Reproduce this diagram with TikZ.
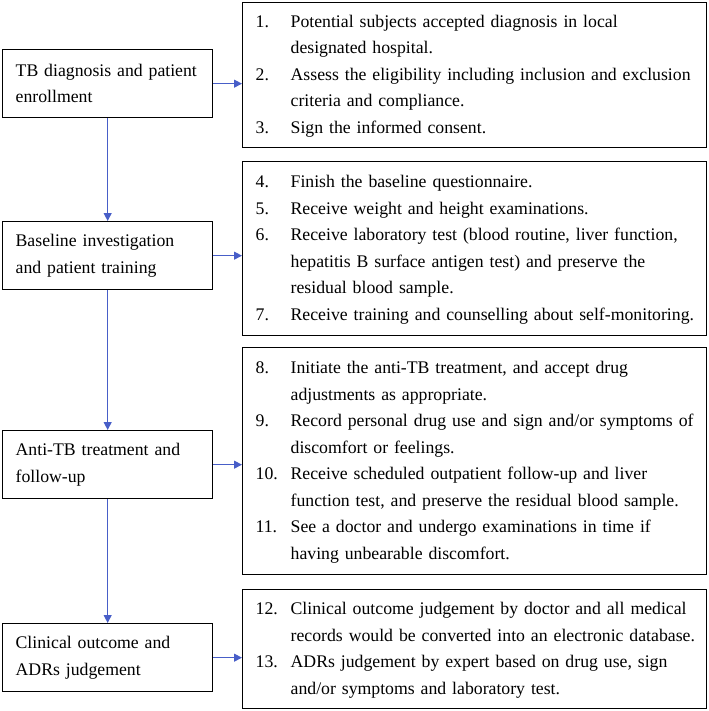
\documentclass[tikz,border=0pt]{standalone}
\usepackage{fontspec}
\setmainfont{Liberation Serif}
\usetikzlibrary{arrows.meta}
\definecolor{flowblue}{RGB}{72,94,200}
\tikzset{
  stage/.style={draw, line width=1pt, anchor=north west, align=left,
    text width=138pt, inner xsep=9.75pt, minimum height=51pt},
  items/.style={draw, line width=1pt, anchor=north west, align=left,
    text width=328.5pt, inner xsep=9.75pt},
  flow/.style={draw=flowblue, line width=0.8pt,
    -{Triangle[length=6pt,width=6pt,fill=flowblue]}}
}
\newcommand{\steplist}[1]{\begin{tabular}{@{}p{26.25pt}@{}l@{}}#1\end{tabular}}
\begin{document}
\begin{tikzpicture}[x=0.75pt,y=-0.75pt,
    font=\fontsize{13.3pt}{19.875pt}\selectfont]
  \useasboundingbox (0,0) rectangle (708,711);
  % stages on the left
  \node[stage] (diag) at (2,49) {TB diagnosis and patient\\enrollment};
  \node[stage] (base) at (2,221) {Baseline investigation\\and patient training};
  \node[stage] (treat) at (2,430) {Anti-TB treatment and\\follow-up};
  \node[stage] (judge) at (2,623) {Clinical outcome and\\ADRs judgement};
  % steps on the right
  \node[items, minimum height=108.75pt] (list1) at (242,2) {\steplist{
    1. & Potential subjects accepted diagnosis in local\\
       & designated hospital.\\
    2. & Assess the eligibility including inclusion and exclusion\\
       & criteria and compliance.\\
    3. & Sign the informed consent.}};
  \node[items, minimum height=130.5pt] (list2) at (242,161) {\steplist{
    4. & Finish the baseline questionnaire.\\
    5. & Receive weight and height examinations.\\
    6. & Receive laboratory test (blood routine, liver function,\\
       & hepatitis B surface antigen test) and preserve the\\
       & residual blood sample.\\
    7. & Receive training and counselling about self-monitoring.}};
  \node[items, minimum height=170.25pt] (list3) at (242,347) {\steplist{
    8.  & Initiate the anti-TB treatment, and accept drug\\
        & adjustments as appropriate.\\
    9.  & Record personal drug use and sign and/or symptoms of\\
        & discomfort or feelings.\\
    10. & Receive scheduled outpatient follow-up and liver\\
        & function test, and preserve the residual blood sample.\\
    11. & See a doctor and undergo examinations in time if\\
        & having unbearable discomfort.}};
  \node[items, minimum height=89.25pt] (list4) at (242,589) {\steplist{
    12. & Clinical outcome judgement by doctor and all medical\\
        & records would be converted into an electronic database.\\
    13. & ADRs judgement by expert based on drug use, sign\\
        & and/or symptoms and laboratory test.}};
  \begin{scope}[flow]
    \draw (diag.south) to (base.north);
    \draw (base.south) to (treat.north);
    \draw (treat.south) to (judge.north);
    \draw (diag.east) to (diag.east -| list1.west);
    \draw (base.east) to (base.east -| list2.west);
    \draw (treat.east) to (treat.east -| list3.west);
    \draw (judge.east) to (judge.east -| list4.west);
  \end{scope}
\end{tikzpicture}
\end{document}
